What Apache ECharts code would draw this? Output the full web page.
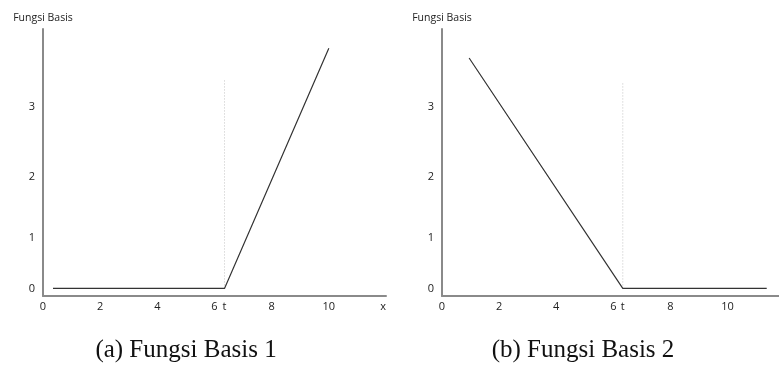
<!DOCTYPE html>
<html>
<head>
<meta charset="utf-8">
<script src="https://cdn.jsdelivr.net/npm/echarts@6/dist/echarts.min.js"></script>
<style>
  html, body { margin: 0; padding: 0; background: #fff; }
  #chart { width: 779px; height: 365px; }
</style>
</head>
<body>
<div id="chart"></div>
<script>
// x ticks and the knot t
const xTicks = [0, 2, 4, 6, 8, 10];
const knot1 = 6.35;
const knot2 = 6.33;
// y labels sit at uneven heights in the source figure
const yTickPos = [0, 0.83, 1.84, 3];
const yTickText = ["0", "1", "2", "3"];

// basis function lines
const basis1 = [[0.35, 0], [6.35, 0], [10.0, 3.97]];
const basis2 = [[0.95, 3.81], [6.33, 0], [11.37, 0]];
// dotted guide at the knot
const guide1 = [[6.35, 0], [6.35, 3.45]];
const guide2 = [[6.33, 0], [6.33, 3.41]];

const axisName = "Fungsi Basis";
const captions = ["(a) Fungsi Basis 1", "(b) Fungsi Basis 2"];

const labelFont = { fontFamily: "Open Sans", fontSize: 11, color: "#222" };

function xAxis(idx, max, knot, withX) {
  const vals = xTicks.concat([knot]);
  if (withX) vals.push(11.9);
  return {
    type: "value",
    gridIndex: idx,
    min: 0,
    max: max,
    splitLine: { show: false },
    axisTick: { show: false },
    axisLine: { onZero: false, lineStyle: { color: "#8a8a8a", width: 2 } },
    axisLabel: {
      ...labelFont,
      margin: 5,
      customValues: vals,
      formatter: (v) => (v === knot ? "t" : v === 11.9 ? "x" : String(v)),
    },
  };
}

function yAxis(idx) {
  return {
    type: "value",
    gridIndex: idx,
    min: -0.125,
    max: 4.29,
    name: axisName,
    nameLocation: "end",
    nameGap: 5,
    nameTextStyle: { fontFamily: "Open Sans", fontSize: 10.5, color: "#222" },
    splitLine: { show: false },
    axisTick: { show: false },
    axisLine: { show: true, onZero: false, lineStyle: { color: "#8a8a8a", width: 2 } },
    axisLabel: {
      ...labelFont,
      margin: 8,
      customValues: yTickPos,
      formatter: (v) => yTickText[yTickPos.indexOf(v)],
    },
  };
}

function lineSeries(idx, data) {
  return {
    type: "line",
    xAxisIndex: idx,
    yAxisIndex: idx,
    data: data,
    symbol: "none",
    silent: true,
    lineStyle: { color: "#333", width: 1.2 },
  };
}

function guideSeries(idx, data) {
  return {
    type: "line",
    xAxisIndex: idx,
    yAxisIndex: idx,
    data: data,
    symbol: "none",
    silent: true,
    lineStyle: { color: "#c4c4c4", width: 1, type: [1, 2] },
  };
}

function caption(x, text) {
  return {
    type: "text",
    x: x,
    y: 350,
    style: {
      text: text,
      font: "25px 'Liberation Serif'",
      fill: "#111",
      align: "center",
      verticalAlign: "middle",
    },
  };
}

const chart = echarts.init(document.getElementById("chart"), null, { renderer: "canvas" });
chart.setOption({
  animation: false,
  backgroundColor: "#fff",
  grid: [
    { left: 43, top: 29, width: 343, height: 267 },
    { left: 442, top: 29, width: 337.5, height: 267 },
  ],
  xAxis: [xAxis(0, 12, knot1, true), xAxis(1, 11.8, knot2, false)],
  yAxis: [yAxis(0), yAxis(1)],
  series: [
    guideSeries(0, guide1),
    lineSeries(0, basis1),
    guideSeries(1, guide2),
    lineSeries(1, basis2),
  ],
  graphic: [caption(186, captions[0]), caption(583, captions[1])],
});
</script>
</body>
</html>
